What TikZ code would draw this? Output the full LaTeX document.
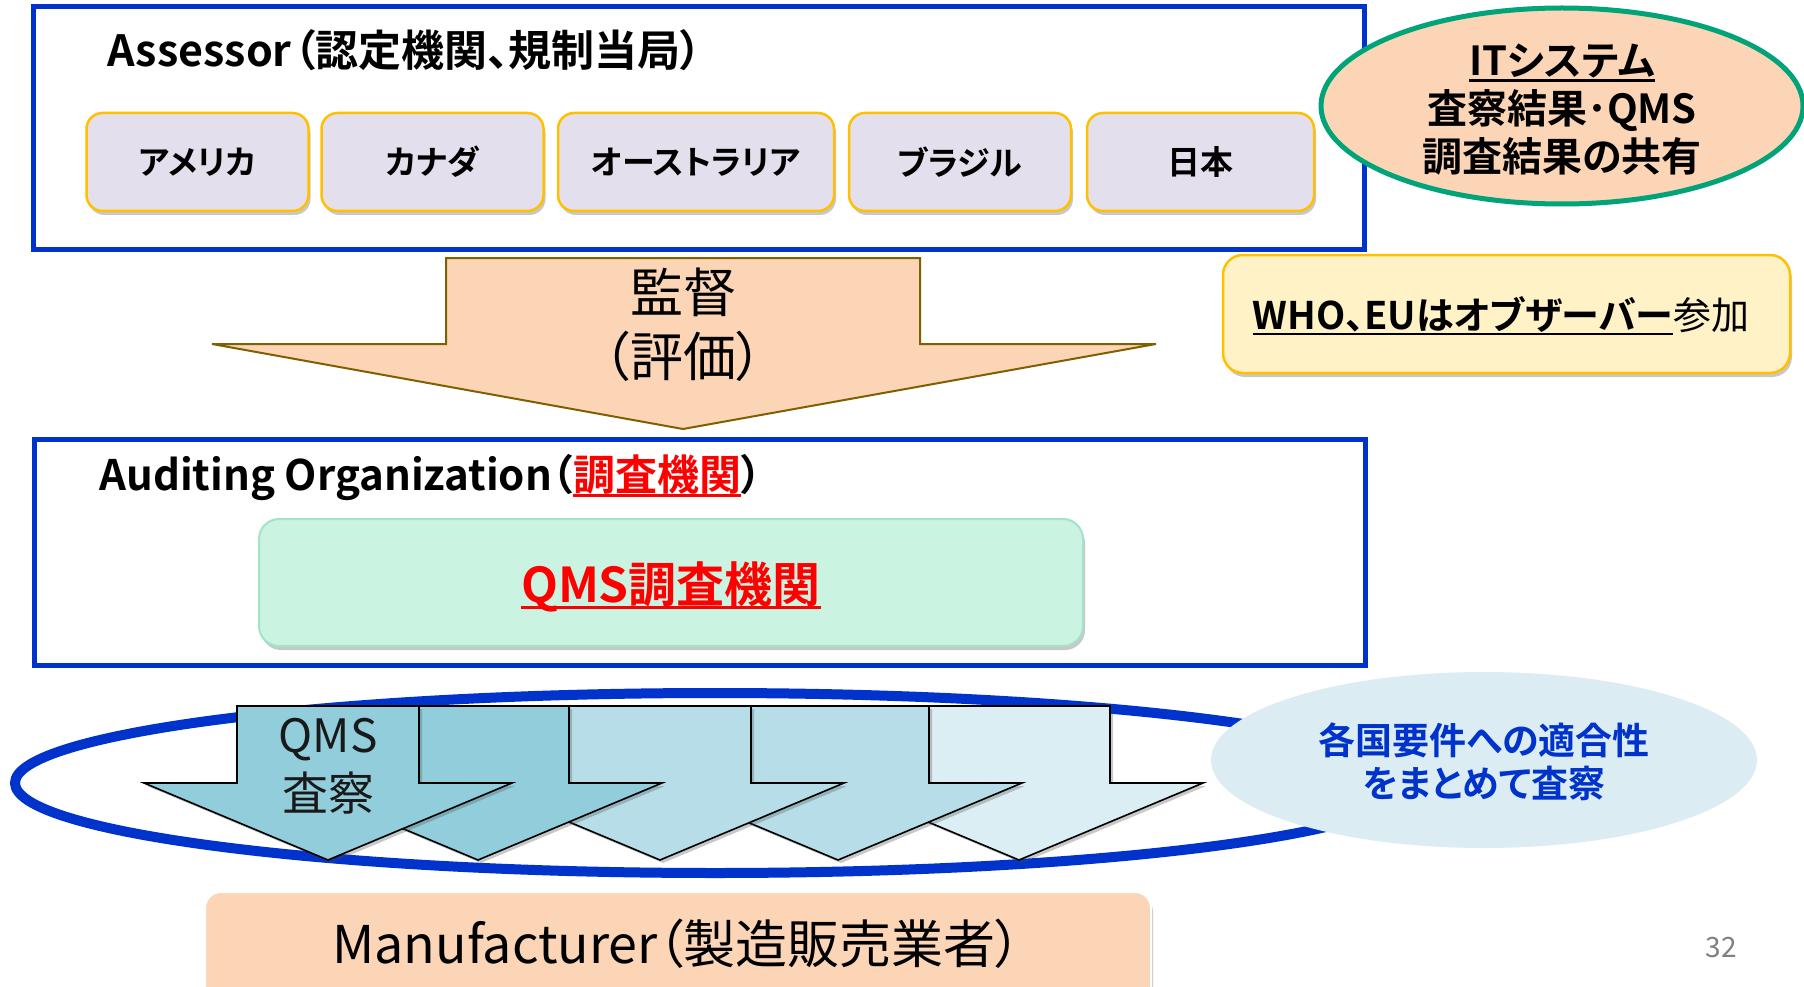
\documentclass[tikz,border=0pt]{standalone}
\usepackage{fontspec}
\setmainfont{Noto Sans CJK JP}[BoldFont=* Bold, RawFeature=+palt]
\usetikzlibrary{shapes.geometric,shadows}
\definecolor{frameblue}{HTML}{0033CC}
\definecolor{gold}{HTML}{FFC000}
\definecolor{lav}{HTML}{E4DFEC}
\definecolor{peach}{HTML}{FBD5B5}
\definecolor{itgreen}{HTML}{00A478}
\definecolor{paleyellow}{HTML}{FFF2C6}
\definecolor{olivebrown}{HTML}{7F6000}
\definecolor{mint}{HTML}{CBF3E1}
\definecolor{mintline}{HTML}{A3E3C8}
\definecolor{aquaA}{HTML}{92CDDC}
\definecolor{aquaB}{HTML}{B7DEE8}
\definecolor{aquaC}{HTML}{DBEEF3}
\definecolor{paleblue}{HTML}{DBEDF3}
\definecolor{textblue}{HTML}{0033CC}
\newcommand{\myul}[1]{\setbox0=\hbox{#1}\rlap{\rule[-0.14em]{\wd0}{0.06em}}\box0}
\newcommand{\fsz}[1]{\fontsize{#1}{#1}\selectfont}
\newcommand{\dnarrowpath}[3]{% #1 name, #2 center x, #3 fill
  \path[dnarrow, fill=#3] ({#2-91},706) coordinate (#1-tl) -- ({#2+91},706) -- ({#2+91},783) -- ({#2+184},783) -- (#2,860) coordinate (#1-tip) -- ({#2-184},783) -- ({#2-91},783) -- cycle;}
\tikzset{
  blueframe/.style={draw=frameblue, line width=5pt, inner sep=0pt, outer sep=0pt},
  softshadow/.style={drop shadow={shadow xshift=2pt, shadow yshift=-4pt, opacity=0.3, fill=black!70}},
  country/.style={draw=gold, line width=2.5pt, fill=lav, rounded corners=16pt, minimum height=98pt, inner sep=0pt, font=\fsz{33}\bfseries, softshadow},
  dnarrow/.style={draw=black, line width=1.6pt, line join=miter, drop shadow={shadow xshift=3pt, shadow yshift=-3pt, opacity=0.3, fill=black!70}},
}
\begin{document}
\begin{tikzpicture}[x=1pt,y=-1pt]
\useasboundingbox[fill=white] (0,0) rectangle (1804,987);
% top frame
\node[blueframe, minimum width=1331pt, minimum height=242pt] (assessor) at (698.5,128) {};
\node[anchor=west, font=\fsz{43}\bfseries] (asstitle) at (104,50) {Assessor\kern2pt（認定機関、規制当局）};
\node[country, minimum width=222pt] (usa) at (197.5,162) {アメリカ};
\node[country, minimum width=222pt] (can) at (432.5,162) {カナダ};
\node[country, minimum width=276pt] (aus) at (696,162) {オーストラリア};
\node[country, minimum width=222pt] (bra) at (960,162) {ブラジル};
\node[country, minimum width=227pt] (jpn) at (1200.5,162) {日本};
% IT ellipse
\node[ellipse, draw=itgreen, line width=5pt, fill=peach, minimum width=482pt, minimum height=196pt, inner sep=0pt] (it) at (1562,106) {};
\node[font=\fontsize{40}{48}\selectfont\bfseries, align=center] (ittext) at (1562,110) {\myul{ITシステム}\\査察結果･QMS\\調査結果の共有};
% WHO box
\node[draw=gold, line width=2.5pt, fill=paleyellow, rounded corners=20pt, minimum width=567pt, minimum height=118pt, softshadow] (who) at (1506.5,314) {};
\node[anchor=west, font=\fsz{38}] (whotext) at (1249,316) {\myul{\bfseries WHO、EUはオブザーバー}参加};
% big peach arrow
\path[fill=peach, draw=olivebrown, line width=2pt, line join=miter] (446,258) coordinate (pa) -- (920,258) -- (920,344) -- (1156,344) -- (683,429) coordinate (patip) -- (212,344) -- (446,344) -- cycle;
\node[font=\fontsize{53}{64}\selectfont, align=center] (kantoku) at (683,325) {監督\\（評価）};
% second frame
\node[blueframe, minimum width=1331pt, minimum height=226pt] (ao) at (699.5,552.5) {};
\node[anchor=west, font=\fsz{42}\bfseries] (aotitle) at (96,478) {Auditing Organization（\textcolor{red}{\myul{調査機関}}）};
\node[draw=mintline, line width=2pt, fill=mint, rounded corners=20pt, minimum width=824pt, minimum height=127pt, softshadow] (qms) at (671,582.5) {};
\node[font=\fsz{48}\bfseries, text=red] (qmstext) at (671,587) {\myul{QMS調査機関}};
% ring
\node[ellipse, draw=frameblue, line width=10pt, minimum width=1400pt, minimum height=180pt, inner sep=0pt] (ring) at (715,783) {};
% down arrows, back to front
\dnarrowpath{a5}{1019}{aquaC}
\dnarrowpath{a4}{838}{aquaB}
\dnarrowpath{a3}{660}{aquaB}
\dnarrowpath{a2}{478}{aquaA}
\dnarrowpath{a1}{328}{aquaA}
\node[font=\fontsize{46}{58}\selectfont, align=center, text=black!90] (audit) at (328,766) {QMS\\査察};
% pale ellipse
\node[ellipse, fill=paleblue, minimum width=546pt, minimum height=176pt, inner sep=0pt] (req) at (1484,760) {};
\node[font=\fontsize{37}{43}\selectfont\bfseries, text=textblue, align=center] (reqtext) at (1484,762) {各国要件への適合性\\をまとめて査察};
% manufacturer
\node[draw=white, line width=2pt, fill=peach, rounded corners=16pt, minimum width=946pt, minimum height=130pt, softshadow] (mfr) at (678,957) {};
\node[font=\fsz{52}] (mfrtext) at (677,944) {Manufacturer（製造販売業者）};
\node[font=\fsz{28}, text=black!50] (pageno) at (1721,948) {32};
\end{tikzpicture}
\end{document}
